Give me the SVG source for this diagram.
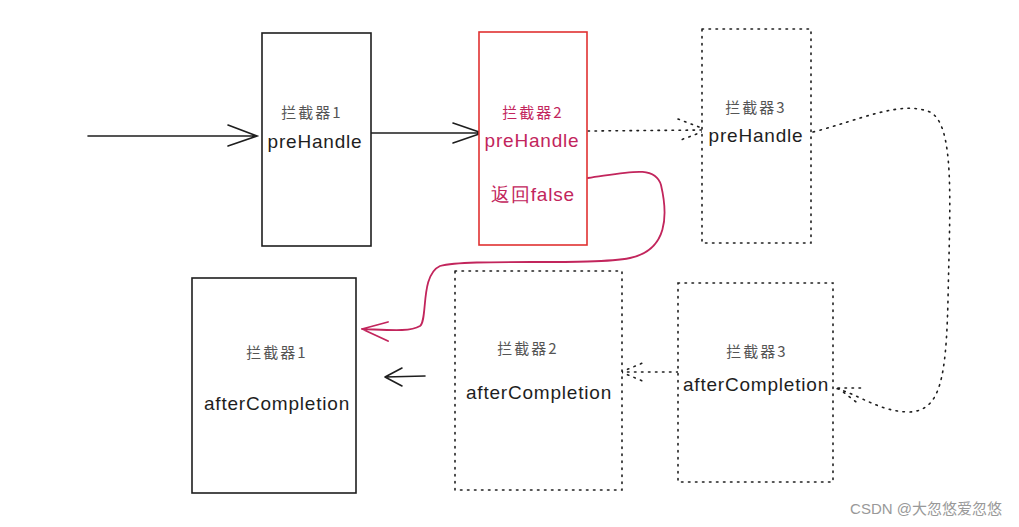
<svg xmlns="http://www.w3.org/2000/svg" width="1019" height="527" viewBox="0 0 1019 527">
<style>
.box{fill:#fff;stroke:#1e1e1e;stroke-width:1.6}
.red{fill:#fff;stroke:#e03131;stroke-width:1.6}
.dot{fill:#fff;stroke:#1e1e1e;stroke-width:1.6;stroke-dasharray:1.5 5.5;stroke-linecap:round}
.cn{font-family:"Noto Sans CJK SC","Liberation Sans",sans-serif;font-size:15px;fill:#555;text-anchor:middle;letter-spacing:2px}
.en{font-family:"Liberation Sans",sans-serif;font-size:19px;fill:#1e1e1e;text-anchor:middle;letter-spacing:0.8px}
.rt{fill:#c2255c}
.ln{fill:none;stroke:#1e1e1e;stroke-width:1.6;stroke-linecap:round}
.ld{fill:none;stroke:#1e1e1e;stroke-width:1.6;stroke-dasharray:1.5 5.5;stroke-linecap:round}
.lr{fill:none;stroke:#c2255c;stroke-width:1.8;stroke-linecap:round}
</style>
<rect width="1019" height="527" fill="#fff"/>
<g id="connectors">
<path class="ln" d="M88 136 L257 136 M228 125 L257 136 L228 146"/>
<path class="ln" d="M371 133 L482 133 M453 123 L482 133 L453 143"/>
<path class="ld" d="M588 131 L707 130 M678 119 L707 130 L678 141"/>
<path class="ld" d="M813 132 C860 120 900 100 930 112 C955 125 950 200 948 300 C946 380 940 410 910 412 C880 412 860 395 835 388"/>
<path class="ld" d="M838 388 L860 405 M838 388 L865 388"/>
<path class="ld" d="M678 372 L621 372 M621 372 L645 362 M621 372 L645 382"/>
<path class="ln" d="M425 376 L385 377 M385 377 L402 368 M385 377 L402 386"/>
<path class="lr" d="M588 178 C630 172 655 165 661 185 C668 215 668 250 630 258 C590 266 470 258 440 266 C420 275 428 320 420 326 C410 332 390 330 362 329 M362 329 L388 322 M362 329 L388 341"/>
</g>
<g id="n1"><rect class="box" x="262" y="33" width="109" height="213"/><text class="cn" x="312" y="118">拦截器1</text><text class="en" x="315" y="148">preHandle</text></g>
<g id="n2"><rect class="red" x="479" y="32" width="108" height="213"/><text class="cn rt" x="533" y="118">拦截器2</text><text class="en rt" x="532" y="147">preHandle</text><text class="en rt" x="533" y="201">返回false</text></g>
<g id="n3"><rect class="dot" x="702" y="29" width="109" height="214"/><text class="cn" x="756" y="113">拦截器3</text><text class="en" x="756" y="142">preHandle</text></g>
<g id="n4"><rect class="box" x="192" y="278" width="164" height="215"/><text class="cn" x="277" y="358">拦截器1</text><text class="en" x="277" y="410">afterCompletion</text></g>
<g id="n5"><rect class="dot" x="455" y="271" width="167" height="219"/><text class="cn" x="528" y="354">拦截器2</text><text class="en" x="539" y="399">afterCompletion</text></g>
<g id="n6"><rect class="dot" x="678" y="283" width="155" height="199"/><text class="cn" x="757" y="357">拦截器3</text><text class="en" x="756" y="391">afterCompletion</text></g>
<text x="1002" y="514" font-family="Liberation Sans,Noto Sans CJK SC,sans-serif" font-size="15" fill="#999" text-anchor="end">CSDN @大忽悠爱忽悠</text>
</svg>
